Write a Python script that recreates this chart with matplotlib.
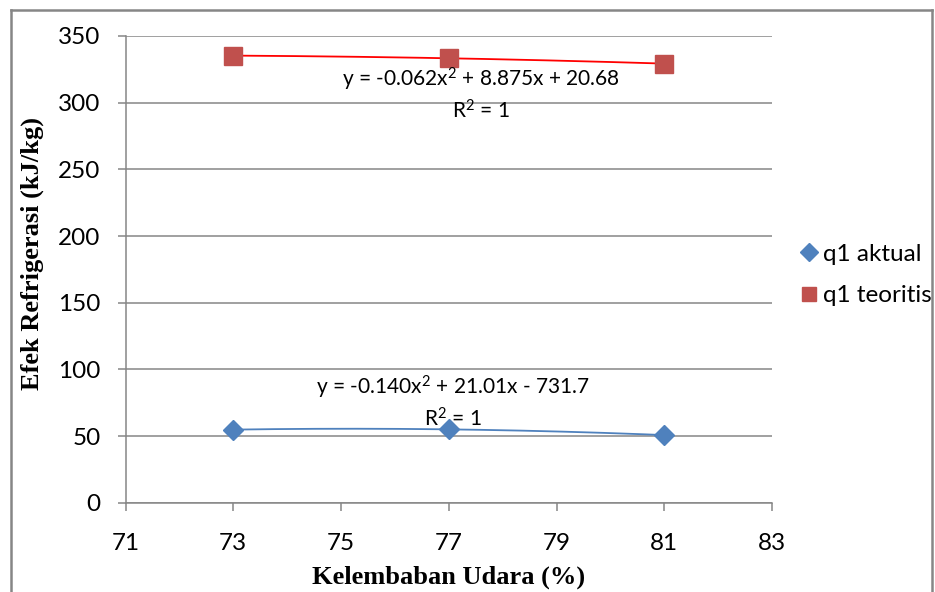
import matplotlib.pyplot as plt
import numpy as np

# kelembaban udara (%)
humidity = [73, 77, 81]
# efek refrigerasi (kJ/kg)
q1_aktual = [54.8, 55.0, 50.7]
q1_teoritis = [335.3, 333.3, 329.3]

eq_aktual = "y = -0.140x$^{2}$ + 21.01x - 731.7\nR$^{2}$ = 1"
eq_teoritis = "y = -0.062x$^{2}$ + 8.875x + 20.68\nR$^{2}$ = 1"

xticks = [71, 73, 75, 77, 79, 81, 83]
yticks = [0, 50, 100, 150, 200, 250, 300, 350]

W, H = 935, 592
gray = "#868686"
blue = "#4F81BD"
red = "#C0504D"

plt.rcParams["font.family"] = ["Lato", "DejaVu Sans"]
plt.rcParams["mathtext.fontset"] = "custom"
plt.rcParams["mathtext.rm"] = "Lato"
plt.rcParams["mathtext.it"] = "Lato"
plt.rcParams["mathtext.default"] = "rm"

fig = plt.figure(figsize=(W / 100, H / 100), dpi=100)

# chart border: an empty axes whose frame runs off the bottom of the image
frame = fig.add_axes([11 / W, -20 / H, (932 - 11) / W, (H + 20 - 10) / H], zorder=0)
frame.set_xticks([])
frame.set_yticks([])
frame.patch.set_alpha(0)
for s in frame.spines.values():
    s.set_color(gray)
    s.set_linewidth(1.8)

ax = fig.add_axes([125.5 / W, 1 - 502.7 / H, (772 - 125.5) / W, (502.7 - 36) / H],
                  zorder=1)
ax.patch.set_alpha(0)

# trend lines (2nd order polynomial through the points)
xs = np.linspace(humidity[0], humidity[-1], 200)
for ys, c in [(q1_aktual, blue), (q1_teoritis, "#FF0000")]:
    coef = np.polyfit(humidity, ys, 2)
    ax.plot(xs, np.polyval(coef, xs), color=c, linewidth=1.3, zorder=3)

ax.plot(humidity, q1_aktual, linestyle="none", marker="D", markersize=10.2,
        color=blue, label="q1 aktual", zorder=4)
ax.plot(humidity, q1_teoritis, linestyle="none", marker="s", markersize=12.7,
        color=red, label="q1 teoritis", zorder=4)

ax.text(77.07, 75.5, eq_aktual, ha="center", va="center", fontsize=15,
        linespacing=1.3, zorder=5)
ax.text(77.6, 306.5, eq_teoritis, ha="center", va="center", fontsize=15,
        linespacing=1.3, zorder=5)

ax.set_xlim(71, 83)
ax.set_ylim(0, 350)
ax.set_xticks(xticks)
ax.set_yticks(yticks)
ax.tick_params(axis="both", direction="out", length=6, width=1.1, color=gray,
               labelsize=17.5)
ax.tick_params(axis="y", pad=12)
ax.tick_params(axis="x", pad=16)
ax.grid(axis="y", color=gray, linewidth=1.1)
ax.set_axisbelow(True)
for s in ["top", "right"]:
    ax.spines[s].set_visible(False)
for s in ["left", "bottom"]:
    ax.spines[s].set_color(gray)
    ax.spines[s].set_linewidth(1.1)

fig.text(449 / W, 1 - 577 / H, "Kelembaban Udara (%)", ha="center", va="center",
         family="Liberation Serif", fontweight="bold", fontsize=19)
fig.text(32 / W, 1 - 254 / H, "Efek Refrigerasi (kJ/kg)", ha="center", va="center",
         rotation=90, family="Liberation Serif", fontweight="bold", fontsize=19)

fig.legend(loc="center left", bbox_to_anchor=(788 / W, 1 - 275 / H), frameon=False,
           fontsize=17.5, markerscale=0.85, handlelength=0.9, handletextpad=0.15,
           labelspacing=0.85, borderaxespad=0)

fig.savefig("out.png", dpi=100)
